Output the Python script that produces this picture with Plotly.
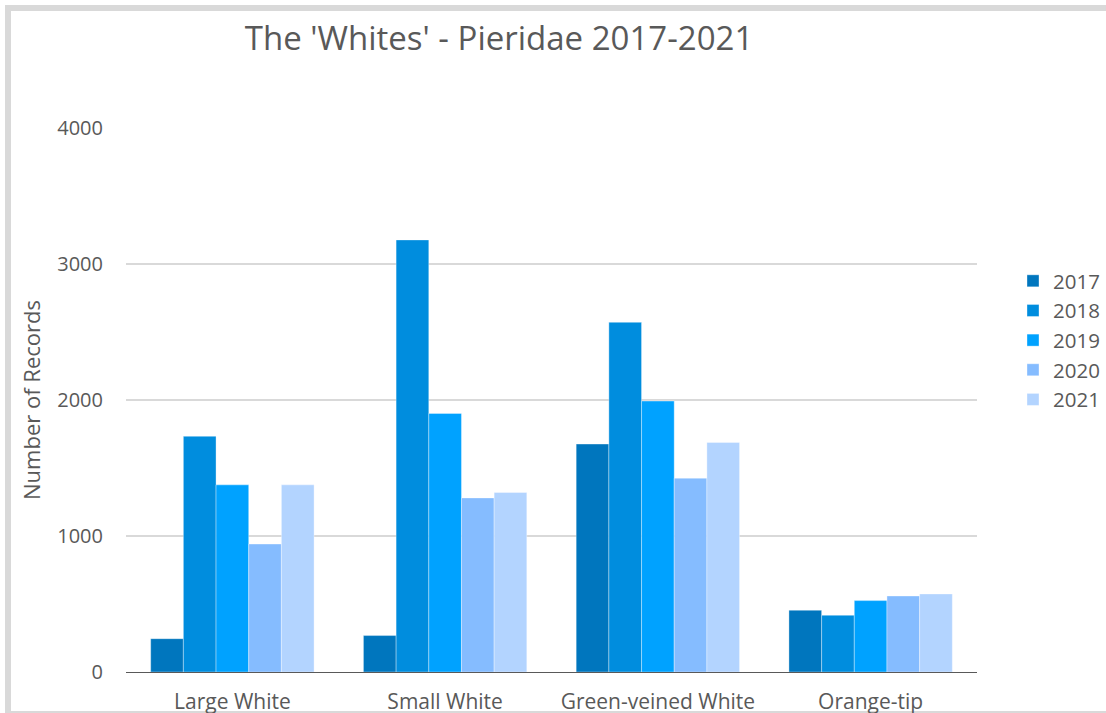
import plotly.graph_objects as go

categories = ["Large White", "Small White", "Green-veined White", "Orange-tip"]
years = ["2017", "2018", "2019", "2020", "2021"]
v2017 = [245, 268, 1676, 454]
v2018 = [1733, 3177, 2571, 417]
v2019 = [1376, 1901, 1992, 525]
v2020 = [941, 1280, 1425, 559]
v2021 = [1376, 1320, 1688, 574]
series = [v2017, v2018, v2019, v2020, v2021]
colors = ["#0076BE", "#008DDE", "#00A2FF", "#85BCFF", "#B3D4FF"]

FONT = "Open Sans"
GRAY = "#595959"

W, H = 1106, 713
L, R, T, B = 126, 129, 128, 41
pw = W - L - R
ph = H - T - B

def px(x):
    return (x - L) / pw

def py(y):
    return (H - B - y) / ph

fig = go.Figure()
for i, (yr, vals, c) in enumerate(zip(years, series, colors)):
    fig.add_trace(go.Bar(
        x=categories, y=vals, name=yr, legendgroup=yr,
        marker=dict(color=c, line=dict(color="rgba(255,255,255,0.35)", width=1)),
    ))

fig.update_layout(
    width=W, height=H,
    margin=dict(l=L, r=R, t=T, b=B, autoexpand=False),
    paper_bgcolor="white", plot_bgcolor="white",
    barmode="group", bargap=0.232, bargroupgap=0,
    font=dict(family=FONT, size=20, color=GRAY),
    title=dict(text="The 'Whites' - Pieridae 2017-2021", x=499 / W, xanchor="center",
               y=1 - 38 / H, yanchor="middle",
               font=dict(family=FONT, size=33, color=GRAY)),
    showlegend=True,
    legend=dict(x=px(1013), xanchor="left", y=py(261), yanchor="top",
                font=dict(family=FONT, size=20.5, color=GRAY),
                tracegroupgap=0, bgcolor="rgba(0,0,0,0)"),
    xaxis=dict(showline=True, linecolor=GRAY, linewidth=1, ticks="",
               automargin=False,
               ticklabelstandoff=11, tickfont=dict(size=21, color=GRAY),
               showgrid=False),
    yaxis=dict(range=[0, 4000], tickvals=[0, 1000, 2000, 3000, 4000],
               automargin=False,
               showgrid=True, gridcolor="#D9D9D9", gridwidth=2,
               zeroline=False, showline=False, ticks="",
               ticklabelstandoff=22, tickfont=dict(size=20, color=GRAY),
               title=dict(text="Number of Records", standoff=10,
                          font=dict(size=22, color=GRAY))),
    shapes=[dict(type="rect", xref="paper", yref="paper",
                 x0=px(8), x1=px(1130), y0=py(714), y1=py(8),
                 line=dict(color="#D9D9D9", width=6), layer="below")],
)

fig.write_html("out.html")
